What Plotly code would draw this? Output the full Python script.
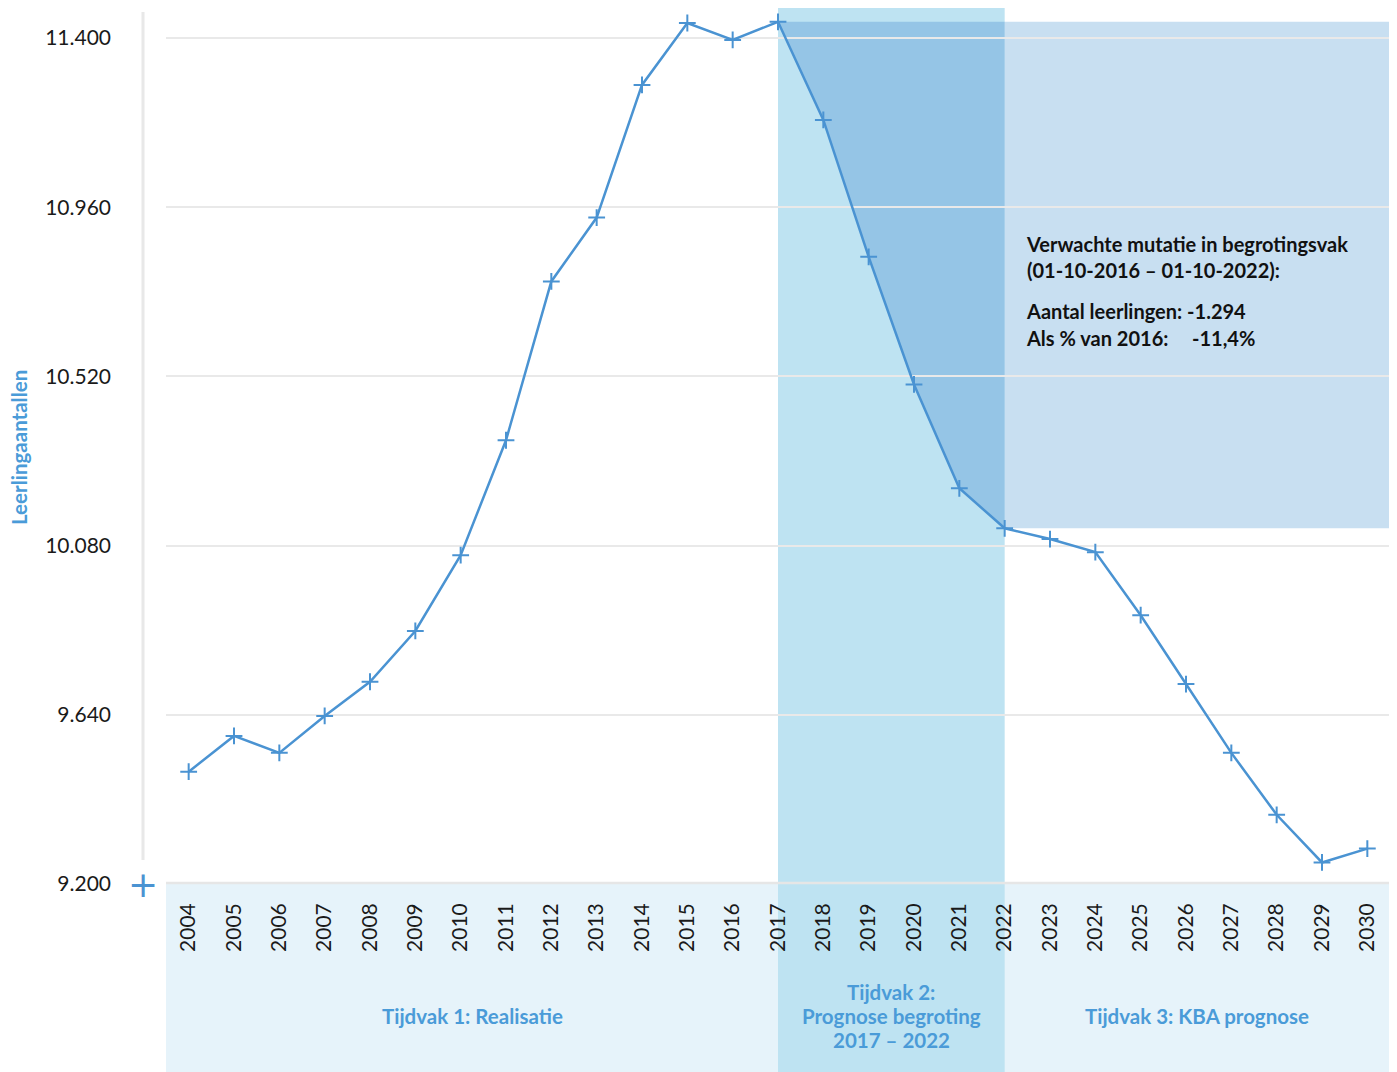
import plotly.graph_objects as go

years = list(range(2004, 2031))
values = [9492, 9585, 9541, 9637, 9726, 9858, 10055, 10354, 10767, 10933,
          11278, 11439, 11395, 11442, 11187, 10831, 10499, 10229, 10125,
          10097, 10063, 9899, 9720, 9541, 9380, 9256, 9292]
y_ticks = [9200, 9640, 10080, 10520, 10960, 11400]
period_labels = [["Tijdvak 1: Realisatie"],
                 ["Tijdvak 2:", "Prognose begroting", "2017 – 2022"],
                 ["Tijdvak 3: KBA prognose"]]
period_start, period_end = 2017, 2022
note_title = "Verwachte mutatie in begrotingsvak<br>(01-10-2016 – 01-10-2022):"
note_lines = ["Aantal leerlingen: -1.294", "Als % van 2016:", "-11,4%"]

# page is rendered with an 8px body margin -> work in page coords, subtract offset
OFF = 8
W, H = 1397 - OFF, 1072 - OFF
ML, MR, MT, MB = 166 - OFF, 7, 0, 188
PW, PH = W - ML - MR, H - MT - MB


def px(x):
    return (x - OFF - ML) / PW


def py(y):
    return (H - MB - (y - OFF)) / PH


BLUE = "#4a93d2"
TXT_BLUE = "#4a9bd8"
BAND = "#bee3f2"
BOTTOM = "#e6f3fa"
RECT = "#c8dff1"
OVER = "#95c5e6"
GRID = "#e9e9e9"
FONT = "Lato"

x_min, x_max = years[0] - 0.5, years[-1] + 0.5
y_min, y_max = 9200, 11478

i0 = years.index(period_start)
i1 = years.index(period_end)
top_v = values[i0]
bot_v = values[i1]

path = f"M {period_start},{top_v} L {period_end},{top_v} L {period_end},{bot_v}"
for k in range(i1 - 1, i0, -1):
    path += f" L {years[k]},{values[k]}"
path += " Z"

shapes = [
    dict(type="rect", xref="x", yref="paper", x0=x_min, x1=x_max, y0=py(1080), y1=0,
         fillcolor=BOTTOM, line_width=0, layer="below"),
    dict(type="rect", xref="x", yref="paper", x0=period_start, x1=period_end,
         y0=py(1080), y1=1, fillcolor=BAND, line_width=0, layer="below"),
    dict(type="rect", xref="x", yref="y", x0=period_end, x1=x_max, y0=bot_v, y1=top_v,
         fillcolor=RECT, line_width=0, layer="below"),
    dict(type="path", xref="x", yref="y", path=path, fillcolor=OVER, line_width=0,
         layer="below"),
    dict(type="line", xref="x", yref="paper", x0=x_min, x1=x_max, y0=py(883), y1=py(883),
         line=dict(color="#e6e6e6", width=2.5), layer="above"),
    dict(type="line", xref="paper", yref="paper", x0=px(143), x1=px(143), y0=py(860),
         y1=py(12), line=dict(color="#e8e8e8", width=3)),
]

fig = go.Figure()
fig.add_trace(go.Scatter(
    x=years, y=values, mode="lines+markers",
    line=dict(color=BLUE, width=2.5),
    marker=dict(symbol="cross-thin", size=12, line=dict(color=BLUE, width=2)),
    cliponaxis=False, showlegend=False, hoverinfo="x+y"))

note_font = dict(size=20, color="#111111", family=FONT)
lab_font = dict(size=20.5, color=TXT_BLUE, family=FONT)
annotations = [
    dict(text="<b>Leerlingaantallen</b>", x=px(19), y=py(448), xref="paper", yref="paper",
         textangle=-90, showarrow=False, font=dict(size=20.5, color=TXT_BLUE, family=FONT),
         xanchor="center", yanchor="middle"),
    dict(text="+", x=px(143), y=py(884), xref="paper", yref="paper", showarrow=False,
         font=dict(size=36, color=BLUE, family="DejaVu Sans"), xanchor="center", yanchor="middle"),
    dict(text="<b>" + note_title + "</b>", x=px(1024), y=py(230), xref="paper", yref="paper",
         showarrow=False, xanchor="left", yanchor="top", align="left", font=note_font),
    dict(text="<b>" + note_lines[0] + "</b>", x=px(1024), y=py(311), xref="paper", yref="paper",
         showarrow=False, xanchor="left", yanchor="middle", font=note_font),
    dict(text="<b>" + note_lines[1] + "</b>", x=px(1024), y=py(338), xref="paper", yref="paper",
         showarrow=False, xanchor="left", yanchor="middle", font=note_font),
    dict(text="<b>" + note_lines[2] + "</b>", x=px(1190), y=py(338), xref="paper", yref="paper",
         showarrow=False, xanchor="left", yanchor="middle", font=note_font),
]

centers = [(x_min + period_start) / 2, (period_start + period_end) / 2, (period_end + x_max) / 2]
for cx, lines in zip(centers, period_labels):
    n = len(lines)
    for j, line in enumerate(lines):
        yy = 1016 + (j - (n - 1) / 2) * 24
        annotations.append(dict(text="<b>" + line + "</b>", x=cx, y=py(yy), xref="x",
                                yref="paper", showarrow=False, xanchor="center",
                                yanchor="middle", font=lab_font))

fig.update_layout(
    width=W, height=H,
    margin=dict(l=ML, r=MR, t=MT, b=MB, pad=0),
    paper_bgcolor="white", plot_bgcolor="rgba(0,0,0,0)",
    font=dict(family=FONT, color="#1a1a1a"),
    shapes=shapes, annotations=annotations,
    xaxis=dict(range=[x_min, x_max], tickmode="array", tickvals=years,
               ticktext=[str(y) for y in years], tickangle=-90, showgrid=False,
               zeroline=False, showline=False, ticks="", ticklabelstandoff=14,
               tickfont=dict(size=21, color="#1a1a1a", family=FONT)),
    yaxis=dict(range=[y_min, y_max], tickmode="array", tickvals=y_ticks,
               ticktext=[f"{v:,}".replace(",", ".") for v in y_ticks],
               showgrid=True, gridcolor=GRID, gridwidth=1.5, zeroline=False,
               showline=False, ticks="", ticklabelstandoff=54,
               tickfont=dict(size=21, color="#1a1a1a", family=FONT)),
)

fig.write_html("out.html")
